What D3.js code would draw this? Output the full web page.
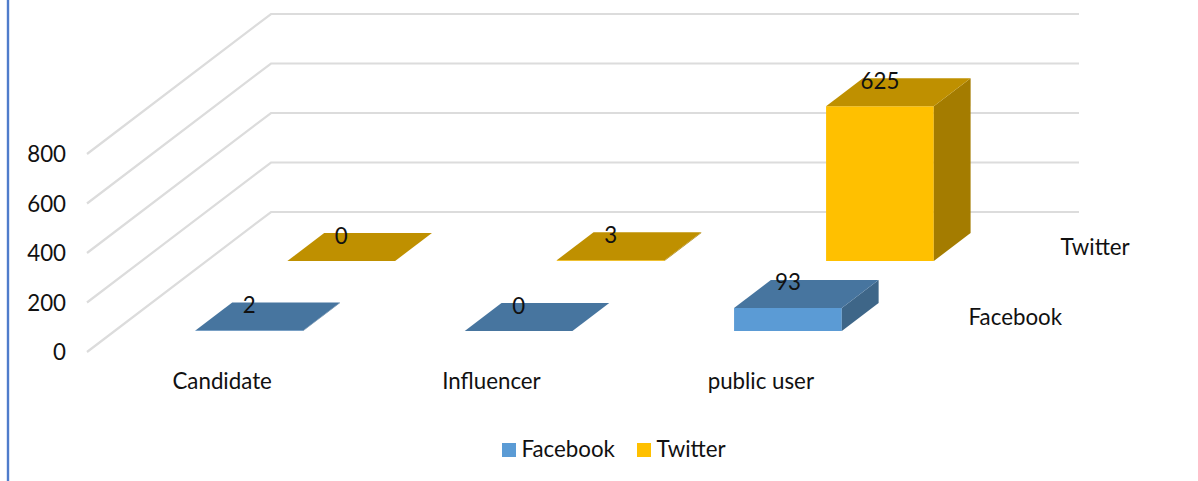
<!DOCTYPE html>
<html>
<head>
<meta charset="utf-8">
<script src="https://cdn.jsdelivr.net/npm/d3@7"></script>
<style>
    html, body { margin: 0; padding: 0; background: #fff; overflow: hidden; }
    text { font-family: Lato, "Open Sans", sans-serif; font-size: 22.3px; fill: #111; }
</style>
</head>
<body>
<div id="chart"></div>
<script>
const categories = ['Candidate', 'Influencer', 'public user'];
const seriesNames = ['Facebook', 'Twitter'];
const facebookValues = [2, 0, 93];
const twitterValues = [0, 3, 625];
const yTicks = [0, 200, 400, 600, 800];

const colors = {
    Facebook: { front: '#5b9bd5', top: '#47759f', side: '#3e6688' },
    Twitter: { front: '#ffc000', top: '#bf9000', side: '#a47c00' }
};

const width = 1198, height = 481;
const origin = { x: 87, y: 352 };   // front left corner of the floor
const depth = { x: 184, y: -140 };  // floor corner to back wall corner

const svg = d3.select('#chart').append('svg')
    .attr('width', width)
    .attr('height', height);

const xScale = d3.scaleBand().domain(categories).range([0, 808]);
const yScale = d3.scaleLinear().domain([0, 800]).range([0, 198]);
const zScale = d3.scaleBand().domain(seriesNames).range([0, 1]);
const barWidth = xScale.bandwidth() * 0.4;
const barDepth = zScale.bandwidth() * 0.4;

// x along the floor, v as value, z into the page (0 front, 1 back)
function project(x, v, z) {
    return [origin.x + x + depth.x * z, origin.y - yScale(v) + depth.y * z];
}

function face(points) {
    return d3.line()(points);
}

svg.append('line')
    .attr('x1', 8).attr('x2', 8)
    .attr('y1', 0).attr('y2', height)
    .attr('stroke', '#4f7ccb')
    .attr('stroke-width', 2.4);

// gridlines on the side wall and back wall
svg.append('g').selectAll('path').data(yTicks).enter()
    .append('path')
    .attr('d', (t) => face([project(0, t, 0), project(0, t, 1), project(808, t, 1)]))
    .attr('fill', 'none')
    .attr('stroke', '#dcdcdc')
    .attr('stroke-width', 2.2);

// y axis
const yAxisScale = d3.scaleLinear().domain([0, 800]).range([origin.y, origin.y - 198]);
const yAxis = svg.append('g')
    .attr('transform', 'translate(73,0.5)')
    .call(d3.axisLeft(yAxisScale).tickValues(yTicks).tickSize(0).tickPadding(7));
yAxis.select('.domain').remove();
yAxis.selectAll('text').style('font-family', 'Lato').style('font-size', '22.3px').attr('fill', '#111');

function drawSeries(name, values) {
    const c = colors[name];
    const z0 = zScale(name) + (zScale.bandwidth() - barDepth) / 2;
    const z1 = z0 + barDepth;
    const bars = categories.map((cat, i) => ({
        x0: xScale(cat) + (xScale.bandwidth() - barWidth) / 2,
        x1: xScale(cat) + (xScale.bandwidth() + barWidth) / 2,
        value: values[i]
    }));
    const g = svg.append('g').attr('class', 'series');

    g.selectAll('path.front').data(bars).enter().append('path')
        .attr('class', 'front')
        .attr('fill', c.front)
        .attr('d', (b) => face([project(b.x0, 0, z0), project(b.x1, 0, z0), project(b.x1, b.value, z0), project(b.x0, b.value, z0)]));
    g.selectAll('path.side').data(bars).enter().append('path')
        .attr('class', 'side')
        .attr('fill', c.side)
        .attr('d', (b) => face([project(b.x1, 0, z0), project(b.x1, 0, z1), project(b.x1, b.value, z1), project(b.x1, b.value, z0)]));
    g.selectAll('path.top').data(bars).enter().append('path')
        .attr('class', 'top')
        .attr('fill', c.top)
        .attr('d', (b) => face([project(b.x0, b.value, z0), project(b.x1, b.value, z0), project(b.x1, b.value, z1), project(b.x0, b.value, z1)]));

    g.selectAll('text').data(bars).enter().append('text')
        .attr('text-anchor', 'middle')
        .attr('dominant-baseline', 'central')
        .attr('x', (b) => project((b.x0 + b.x1) / 2, b.value, z0)[0])
        .attr('y', (b) => project(0, b.value, z1)[1] + 2)
        .text((b) => b.value);

    // series name at the right of the depth axis
    svg.append('text')
        .attr('x', project(808, 0, z0)[0] + 46)
        .attr('y', project(0, 0, z0)[1] - 14.5)
        .attr('dominant-baseline', 'central')
        .text(name);
}

drawSeries('Twitter', twitterValues);
drawSeries('Facebook', facebookValues);

// category labels
svg.append('g').selectAll('text').data(categories).enter().append('text')
    .attr('text-anchor', 'middle')
    .attr('dominant-baseline', 'central')
    .attr('x', (d) => origin.x + xScale(d) + xScale.bandwidth() / 2 + 0.5)
    .attr('y', 380.5)
    .text((d) => d);

// legend
const legendX = { Facebook: 502, Twitter: 637 };
const legend = svg.append('g').selectAll('g').data(seriesNames).enter().append('g')
    .attr('transform', (d) => `translate(${legendX[d]},443)`);
legend.append('rect')
    .attr('width', 14).attr('height', 14)
    .attr('fill', (d) => colors[d].front);
legend.append('text')
    .attr('x', 19.5)
    .attr('y', 5.5)
    .attr('dominant-baseline', 'central')
    .text((d) => d);
</script>
</body>
</html>
